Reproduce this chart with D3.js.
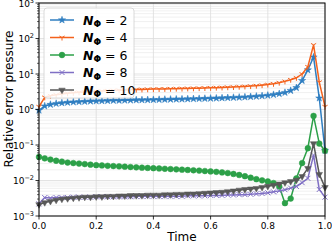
<!DOCTYPE html>
<html>
<head>
<meta charset="utf-8">
<script src="https://cdn.jsdelivr.net/npm/d3@7"></script>
<style>
  body { margin: 0; background: #fff; }
  text { font-family: "DejaVu Sans", sans-serif; }
</style>
</head>
<body>
<div id="chart"></div>
<script>
// time samples (0.00 .. 1.00 step 0.02)
const times = [0,0.02,0.04,0.06,0.08,0.1,0.12,0.14,0.16,0.18,0.2,0.22,0.24,0.26,0.28,0.3,0.32,0.34,0.36,0.38,0.4,
  0.42,0.44,0.46,0.48,0.5,0.52,0.54,0.56,0.58,0.6,0.62,0.64,0.66,0.68,0.7,0.72,0.74,0.76,0.78,0.8,
  0.82,0.84,0.86,0.88,0.9,0.92,0.94,0.96,0.98,1.0];

const nPhi2 = [0.95,1.25,1.38,1.47,1.53,1.58,1.62,1.65,1.68,1.71,1.73,1.75,1.77,1.79,1.8,1.82,1.83,1.85,1.86,1.87,1.89,
  1.9,1.92,1.93,1.95,1.96,1.98,2.0,2.02,2.04,2.06,2.08,2.11,2.14,2.17,2.2,2.24,2.29,2.35,2.42,2.5,
  2.62,2.78,3.0,3.4,4.1,6.5,13,30,2.1,0.07];
const nPhi4 = [1.2,2.2,2.45,2.6,2.75,2.85,2.95,3.05,3.12,3.2,3.27,3.33,3.4,3.45,3.5,3.55,3.6,3.64,3.68,3.72,3.75,
  3.78,3.81,3.84,3.87,3.9,3.93,3.96,4.0,4.04,4.08,4.13,4.18,4.24,4.3,4.38,4.47,4.57,4.7,4.85,5.05,
  5.3,5.7,6.2,6.9,7.8,10,16,66,5.9,1.2];
const nPhi6 = [0.046,0.042,0.039,0.036,0.034,0.032,0.031,0.03,0.029,0.028,0.027,0.0265,0.026,0.0255,0.025,0.0245,0.024,0.0235,0.023,0.0226,0.0222,
  0.0218,0.0214,0.021,0.0206,0.0202,0.0198,0.0194,0.019,0.0185,0.018,0.0175,0.0169,0.0162,0.0153,0.0143,0.0132,0.012,0.0109,0.0101,0.0094,
  0.0085,0.0068,0.0023,0.0031,0.0115,0.031,0.081,0.66,0.11,0.069];
const nPhi8 = [0.0022,0.0033,0.0032,0.0033,0.0033,0.0033,0.0034,0.0034,0.0034,0.0034,0.0035,0.0035,0.0035,0.0035,0.0035,0.0035,0.0035,0.0036,0.0036,0.0036,0.0036,
  0.0036,0.0036,0.0036,0.0036,0.0036,0.0037,0.0037,0.0037,0.0037,0.0038,0.0038,0.0038,0.0039,0.0039,0.004,0.004,0.0041,0.0042,0.0043,0.0045,
  0.0048,0.0051,0.0055,0.0061,0.0068,0.0087,0.0115,0.052,0.0056,0.0034];
const nPhi10 = [0.0021,0.0024,0.0026,0.0028,0.003,0.0031,0.0032,0.0033,0.0034,0.0034,0.0035,0.0035,0.0036,0.0036,0.0037,0.0037,0.0038,0.0038,0.0038,0.0039,0.0039,
  0.0039,0.004,0.004,0.0041,0.0041,0.0042,0.0042,0.0043,0.0044,0.0045,0.0046,0.0047,0.0049,0.0051,0.0054,0.0056,0.0058,0.006,0.0064,0.0069,
  0.0074,0.008,0.0087,0.0094,0.0103,0.013,0.022,0.11,0.015,0.0064];

const seriesNames = ["2", "4", "6", "8", "10"];
const seriesValues = [nPhi2, nPhi4, nPhi6, nPhi8, nPhi10];
const colors = ["#2f7ec1", "#f4621c", "#2ca048", "#7f6fc4", "#585858"];
const markers = ["star", "tri", "circle", "x", "tridown"];

const xTicks = [0, 0.2, 0.4, 0.6, 0.8, 1.0];
const yDecades = [-3, -2, -1, 0, 1, 2, 3];

const width = 332, height = 245;
const margin = {top: 3, right: 7, bottom: 29, left: 39};

const svg = d3.select("#chart").append("svg")
  .attr("width", width).attr("height", height);

const x = d3.scaleLinear().domain([0, 1]).range([margin.left, width - margin.right]);
const y = d3.scaleLog().domain([1e-3, 1e3]).range([height - margin.bottom, margin.top]);

// grid: minor log lines
const minor = [];
for (let e = -3; e < 3; e++) for (let k = 2; k <= 9; k++) minor.push(k * Math.pow(10, e));
svg.append("g").selectAll("line").data(minor).enter().append("line")
  .attr("x1", margin.left).attr("x2", width - margin.right)
  .attr("y1", d => y(d)).attr("y2", d => y(d))
  .attr("stroke", "#ececec").attr("stroke-width", 0.8);
svg.append("g").selectAll("line").data(yDecades).enter().append("line")
  .attr("x1", margin.left).attr("x2", width - margin.right)
  .attr("y1", d => y(Math.pow(10, d))).attr("y2", d => y(Math.pow(10, d)))
  .attr("stroke", "#dcdcdc").attr("stroke-width", 0.8);
svg.append("g").selectAll("line").data(xTicks).enter().append("line")
  .attr("x1", d => x(d)).attr("x2", d => x(d))
  .attr("y1", margin.top).attr("y2", height - margin.bottom)
  .attr("stroke", "#dcdcdc").attr("stroke-width", 0.8);

// marker shapes
function markerPath(type) {
  const p = d3.path();
  if (type === "star") return d3.symbol(d3.symbolStar, 16)();
  if (type === "circle") return d3.symbol(d3.symbolCircle, 26)();
  if (type === "tridown") return d3.symbol(d3.symbolTriangle, 18)();
  if (type === "x") {
    p.moveTo(-2.5, -2.5); p.lineTo(2.5, 2.5); p.moveTo(-2.5, 2.5); p.lineTo(2.5, -2.5);
    return p.toString();
  }
  // tri_down '1' style
  p.moveTo(0, 0); p.lineTo(0, 3);
  p.moveTo(0, 0); p.lineTo(-2.6, -1.5);
  p.moveTo(0, 0); p.lineTo(2.6, -1.5);
  return p.toString();
}
function drawMarker(g, type, color) {
  const m = g.append("path").attr("d", markerPath(type));
  if (type === "x" || type === "tri") {
    m.attr("fill", "none").attr("stroke", color).attr("stroke-width", 1);
  } else {
    m.attr("fill", color).attr("stroke", color).attr("stroke-width", 0.5);
  }
  if (type === "tridown") m.attr("transform", "rotate(180)");
  return m;
}

const plot = svg.append("g");
const line = d3.line().x(d => x(d[0])).y(d => y(d[1]));

seriesValues.forEach((vals, i) => {
  const pts = times.map((t, j) => [t, vals[j]]);
  const g = plot.append("g");
  g.append("path").datum(pts).attr("d", line)
    .attr("fill", "none").attr("stroke", colors[i]).attr("stroke-width", 1.5);
  g.selectAll("g.m").data(pts).enter().append("g")
    .attr("transform", d => "translate(" + x(d[0]) + "," + y(d[1]) + ")")
    .each(function() { drawMarker(d3.select(this), markers[i], colors[i]); });
});

// frame
svg.append("rect")
  .attr("x", margin.left).attr("y", margin.top)
  .attr("width", width - margin.left - margin.right)
  .attr("height", height - margin.top - margin.bottom)
  .attr("fill", "none").attr("stroke", "#000").attr("stroke-width", 1);

// x axis
const xAxis = svg.append("g");
xTicks.forEach(t => {
  xAxis.append("line").attr("x1", x(t)).attr("x2", x(t))
    .attr("y1", height - margin.bottom).attr("y2", height - margin.bottom + 3.5)
    .attr("stroke", "#000").attr("stroke-width", 0.8);
  xAxis.append("text").attr("x", x(t)).attr("y", height - margin.bottom + 13)
    .attr("text-anchor", "middle").attr("font-size", 9).text(d3.format(".1f")(t));
});
svg.append("text").attr("x", (margin.left + width - margin.right) / 2).attr("y", 241)
  .attr("text-anchor", "middle").attr("font-size", 12).text("Time");

// y axis
const yAxis = svg.append("g");
yDecades.forEach(e => {
  const yy = y(Math.pow(10, e));
  yAxis.append("line").attr("x1", margin.left - 3.5).attr("x2", margin.left)
    .attr("y1", yy).attr("y2", yy).attr("stroke", "#000").attr("stroke-width", 0.8);
  const t = yAxis.append("text").attr("x", margin.left - 5).attr("y", yy + 3.5)
    .attr("text-anchor", "end").attr("font-size", 9);
  t.append("tspan").text("10");
  t.append("tspan").attr("dy", -4).attr("font-size", 6.5).text(e < 0 ? "\u2212" + (-e) : String(e));
});
minor.forEach(v => {
  yAxis.append("line").attr("x1", margin.left - 2).attr("x2", margin.left)
    .attr("y1", y(v)).attr("y2", y(v)).attr("stroke", "#000").attr("stroke-width", 0.6);
});
svg.append("text")
  .attr("transform", "translate(13,99) rotate(-90)")
  .attr("text-anchor", "middle").attr("font-size", 12).text("Relative error pressure");

// legend
const legend = svg.append("g");
legend.append("rect").attr("x", 44).attr("y", 8).attr("width", 90).attr("height", 90)
  .attr("rx", 3).attr("fill", "#fff").attr("fill-opacity", 0.85)
  .attr("stroke", "#d0d0d0").attr("stroke-width", 0.8);
seriesNames.forEach((name, i) => {
  const ly = 20 + i * 17.5;
  const g = legend.append("g");
  g.append("line").attr("x1", 50).attr("x2", 74).attr("y1", ly).attr("y2", ly)
    .attr("stroke", colors[i]).attr("stroke-width", 1.5);
  const mg = g.append("g").attr("transform", "translate(62," + ly + ")");
  drawMarker(mg, markers[i], colors[i]);
  const t = g.append("text").attr("x", 83).attr("y", ly + 4.5).attr("font-size", 12.5);
  t.append("tspan").attr("font-style", "italic").attr("font-weight", "bold").text("N");
  t.append("tspan").attr("font-weight", "bold").attr("font-size", 9).attr("dy", 2.5).text("\u03A6");
  t.append("tspan").attr("dy", -2.5).text(" = " + name);
});
</script>
</body>
</html>
